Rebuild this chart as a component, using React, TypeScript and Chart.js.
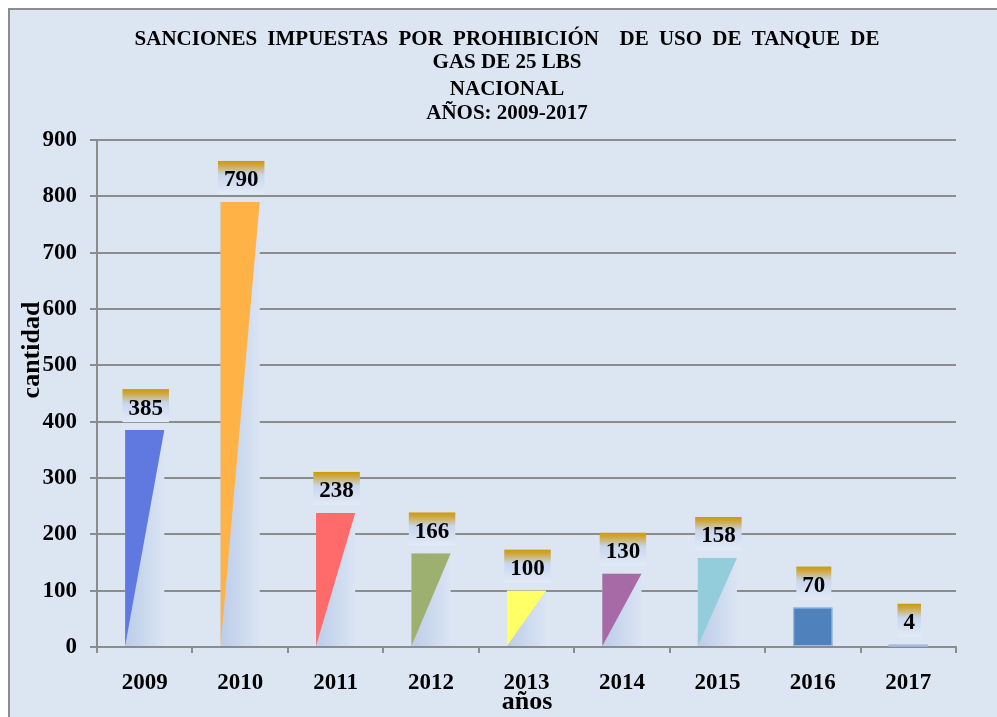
import React, { useEffect, useRef } from "react";
import { Chart, registerables } from "chart.js";

Chart.register(...registerables);

const categories = ["2009", "2010", "2011", "2012", "2013", "2014", "2015", "2016", "2017"];
const values = [385, 790, 238, 166, 100, 130, 158, 70, 4];
const titleLines = [
  "SANCIONES IMPUESTAS POR PROHIBICIÓN  DE USO DE TANQUE DE",
  "GAS DE 25 LBS",
  "NACIONAL",
  "AÑOS: 2009-2017",
];
const yTitle = "cantidad";
const xTitle = "años";

const barColors = ["#6079e0", "#ffb347", "#ff6b6b", "#9db06f", "#ffff66", "#a86aa6", "#93cddc", "#4f81bd", "#4f81bd"];
const solidBar = [false, false, false, false, false, false, false, true, true];

const FONT = "'Liberation Serif', 'Times New Roman', serif";
const GRID = "#8c8c8c";

const decorPlugin = {
  id: "decor",
  beforeDraw(chart: any) {
    const { ctx, width, height } = chart;
    ctx.save();
    ctx.fillStyle = "#dce6f2";
    ctx.fillRect(0, 0, width, height);
    ctx.restore();
  },
  afterDatasetsDraw(chart: any) {
    const { ctx } = chart;
    const meta = chart.getDatasetMeta(0);
    ctx.save();
    meta.data.forEach((el: any, i: number) => {
      const { x, y, base, width } = el.getProps(["x", "y", "base", "width"], true);
      const l = x - width / 2;
      const r = x + width / 2;
      const t = Math.min(y, base);
      const b = Math.max(y, base);
      if (solidBar[i]) {
        ctx.fillStyle = barColors[i];
        ctx.fillRect(l, t, r - l, b - t);
        ctx.strokeStyle = "rgba(170,195,235,0.9)";
        ctx.lineWidth = 1;
        ctx.strokeRect(l + 0.5, t + 0.5, r - l - 1, Math.max(b - t - 1, 1));
      } else {
        const g = ctx.createLinearGradient(l, 0, r, 0);
        g.addColorStop(0, "#bccde9");
        g.addColorStop(1, "#dae4f3");
        ctx.fillStyle = g;
        ctx.fillRect(l, t, r - l, b - t);
        ctx.beginPath();
        ctx.moveTo(l, b);
        ctx.lineTo(l, t);
        ctx.lineTo(r, t);
        ctx.closePath();
        ctx.fillStyle = barColors[i];
        ctx.fill();
      }
      // label box
      const txt = String(values[i]);
      ctx.font = `bold 23px ${FONT}`;
      const tw = ctx.measureText(txt).width;
      const bw = tw + 12;
      const bh = 33;
      const bb = t - 8;
      const bt = bb - bh;
      const bl = x + 1 - bw / 2;
      const lg = ctx.createLinearGradient(0, bt, 0, bb);
      lg.addColorStop(0, "#cc9a06");
      lg.addColorStop(0.12, "#d0a63a");
      lg.addColorStop(0.42, "#c8d6ee");
      lg.addColorStop(1, "#e2eaf6");
      ctx.fillStyle = lg;
      ctx.fillRect(bl, bt, bw, bh);
      ctx.fillStyle = "#000";
      ctx.textAlign = "center";
      ctx.textBaseline = "middle";
      ctx.fillText(txt, x + 1, bt + bh / 2 + 3);
    });
    ctx.restore();
  },
  afterDraw(chart: any) {
    const { ctx } = chart;
    ctx.save();
    ctx.fillStyle = "#000";
    ctx.textAlign = "center";
    ctx.textBaseline = "middle";
    ctx.font = `bold 21px ${FONT}`;
    const ys = [30, 53, 80, 104];
    titleLines.forEach((line, i) => {
      (ctx as any).wordSpacing = i === 0 ? "5px" : "0px";
      ctx.fillText(line, 497, ys[i]);
    });
    (ctx as any).wordSpacing = "0px";
    ctx.font = `bold 26px ${FONT}`;
    ctx.fillText(xTitle, 517, 692);
    ctx.translate(22, 340);
    ctx.rotate(-Math.PI / 2);
    ctx.fillText(yTitle, 0, 0);
    ctx.restore();
  },
};

export default function App() {
  const ref = useRef<HTMLCanvasElement | null>(null);
  useEffect(() => {
    if (!ref.current) return;
    const chart = new Chart(ref.current, {
      type: "bar",
      data: {
        labels: categories,
        datasets: [
          {
            data: values,
            backgroundColor: "rgba(0,0,0,0)",
            borderWidth: 0,
            barPercentage: 0.41,
            categoryPercentage: 1,
          },
        ],
      },
      options: {
        responsive: false,
        devicePixelRatio: 1,
        animation: false,
        layout: { padding: { top: 130, right: 44, left: 0, bottom: 0 } },
        plugins: { legend: { display: false }, title: { display: false }, tooltip: { enabled: false } },
        scales: {
          x: {
            grid: { display: true, drawOnChartArea: false, drawTicks: true, tickLength: 6, color: GRID, lineWidth: 2, offset: true },
            border: { display: true, color: GRID, width: 2 },
            ticks: { font: { family: FONT, size: 23, weight: "bold" }, color: "#000", padding: 16, maxRotation: 0 },
            afterFit: (s: any) => { s.height = 73; },
          },
          y: {
            min: 0,
            max: 900,
            ticks: { stepSize: 100, font: { family: FONT, size: 23, weight: "bold" }, color: "#000", padding: 13 },
            grid: { color: GRID, lineWidth: 2, tickLength: 7 },
            border: { display: true, color: GRID, width: 2 },
            afterFit: (s: any) => { s.width = 87; },
          },
        },
      },
      plugins: [decorPlugin],
    } as any);
    return () => chart.destroy();
  }, []);
  return (
    <div style={{ position: "fixed", left: 8, top: 8, width: 990, height: 710, borderLeft: "2px solid #8c8c8c", borderTop: "2px solid #8c8c8c", background: "#dce6f2" }}>
      <canvas ref={ref} width={990} height={710} style={{ display: "block" }} />
    </div>
  );
}
